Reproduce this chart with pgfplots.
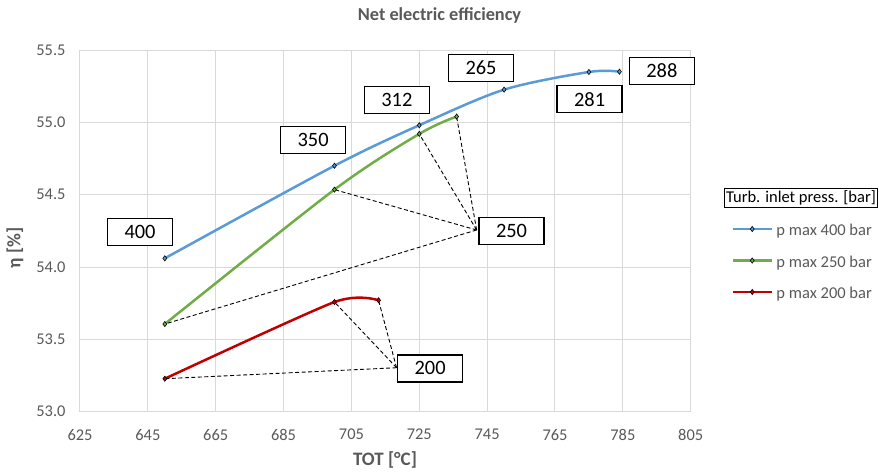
\documentclass[border=0pt]{standalone}
\usepackage{pgfplots}
\pgfplotsset{compat=1.18}
\usepackage{fontspec}
\setmainfont{Carlito}
\definecolor{c400}{HTML}{5B9BD5}
\definecolor{c250}{HTML}{70AD47}
\definecolor{c200}{HTML}{C00000}
\definecolor{txtgray}{HTML}{595959}
\definecolor{gridgray}{HTML}{D9D9D9}
\tikzset{callout/.style={draw=black, line width=1.2pt, fill=white, minimum width=65pt, minimum height=27pt, inner sep=0pt, font=\fontsize{20.4}{22}\selectfont}}
\begin{document}
\begin{tikzpicture}
\path[use as bounding box] (-80pt,-60.3pt) rectangle (799pt,411.7pt);
\begin{axis}[
  scale only axis, width=610.7pt, height=361.7pt,
  xmin=625, xmax=805, ymin=53, ymax=55.5,
  xtick={625,645,665,685,705,725,745,765,785,805},
  ytick={53,53.5,54,54.5,55,55.5},
  yticklabel style={/pgf/number format/.cd, fixed, fixed zerofill, precision=1},
  /pgf/number format/assume math mode=true,
  ticklabel style={font=\fontsize{16.4}{18}\selectfont, text=txtgray},
  major tick length=0pt,
  xticklabel shift=14pt, yticklabel shift=11pt,
  grid=major, major grid style={draw=gridgray, line width=1pt},
  axis line style={draw=gridgray, line width=1pt},
  clip=false,
  legend style={at={(rel axis cs:1.0676,0.5203)}, anchor=north west, draw=none, fill=none, inner sep=0pt, outer sep=0pt,
    column sep=4pt, row sep=15.5pt,
    nodes={inner sep=0pt, text height=12pt, text depth=4pt, font=\fontsize{16.5}{18}\selectfont, text=txtgray}},
  legend cell align=left,
  legend image code/.code={\draw[mark repeat=2,mark phase=2,yshift=0.25em,#1] plot coordinates {(0pt,0pt) (19pt,0pt) (38pt,0pt)};},
]
\addplot[c400, line width=2.5pt, smooth, tension=0.5, mark=diamond*, mark size=2.6pt, mark options={draw=black, fill=c400, line width=0.6pt}]
  coordinates {(650,54.06) (700,54.70) (725,54.98) (750,55.226) (775,55.348) (784,55.35)};
\addlegendentry{p max 400 bar}
\addplot[c250, line width=2.5pt, smooth, tension=0.5, mark=diamond*, mark size=2.6pt, mark options={draw=black, fill=c250, line width=0.6pt}]
  coordinates {(650,53.606) (700,54.535) (725,54.92) (736,55.04)};
\addlegendentry{p max 250 bar}
\addplot[c200, line width=2.5pt, smooth, tension=0.4, mark=diamond*, mark size=2.6pt, mark options={draw=black, fill=c200, line width=0.6pt}]
  coordinates {(650,53.228) (700,53.758) (713,53.77)};
\addlegendentry{p max 200 bar}
% dashed leader lines
\addplot[forget plot, black, line width=0.9pt, dash pattern=on 4pt off 2.5pt] coordinates {(741.9,54.256) (650,53.606)};
\addplot[forget plot, black, line width=0.9pt, dash pattern=on 4pt off 2.5pt] coordinates {(741.9,54.256) (700,54.535)};
\addplot[forget plot, black, line width=0.9pt, dash pattern=on 4pt off 2.5pt] coordinates {(741.9,54.256) (725,54.92)};
\addplot[forget plot, black, line width=0.9pt, dash pattern=on 4pt off 2.5pt] coordinates {(741.9,54.256) (736,55.04)};
\addplot[forget plot, black, line width=0.9pt, dash pattern=on 4pt off 2.5pt] coordinates {(718.3,53.304) (650,53.228)};
\addplot[forget plot, black, line width=0.9pt, dash pattern=on 4pt off 2.5pt] coordinates {(718.3,53.304) (700,53.758)};
\addplot[forget plot, black, line width=0.9pt, dash pattern=on 4pt off 2.5pt] coordinates {(718.3,53.304) (713,53.77)};
% callouts
\node[callout] at (axis cs:642.7,54.24) {400};
\node[callout] at (axis cs:693.7,54.88) {350};
\node[callout] at (axis cs:718.4,55.155) {312};
\node[callout] at (axis cs:743.2,55.376) {265};
\node[callout] at (axis cs:796.5,55.355) {288};
\node[callout] at (axis cs:775.2,55.16) {281};
\node[callout] at (axis cs:752.2,54.249) {250};
\node[callout] at (axis cs:728.2,53.299) {200};
% legend title, chart title, axis labels
\node[draw=black, line width=1pt, inner sep=2pt, font=\fontsize{16.5}{18}\selectfont, text=black] at (rel axis cs:1.1806,0.5908) {Turb. inlet press. [bar]};
\node[font=\bfseries\fontsize{18.3}{20}\selectfont, text=txtgray] at (rel axis cs:0.5887,1.094) {Net electric efficiency};
\node[font=\bfseries\fontsize{19}{21}\selectfont, text=txtgray] at (rel axis cs:0.4994,-0.1335) {TOT [°C]};
\node[font=\bfseries\fontsize{19}{21}\selectfont, text=txtgray, rotate=90] at (rel axis cs:-0.1064,0.452) {η [\%]};
\end{axis}
\end{tikzpicture}
\end{document}
